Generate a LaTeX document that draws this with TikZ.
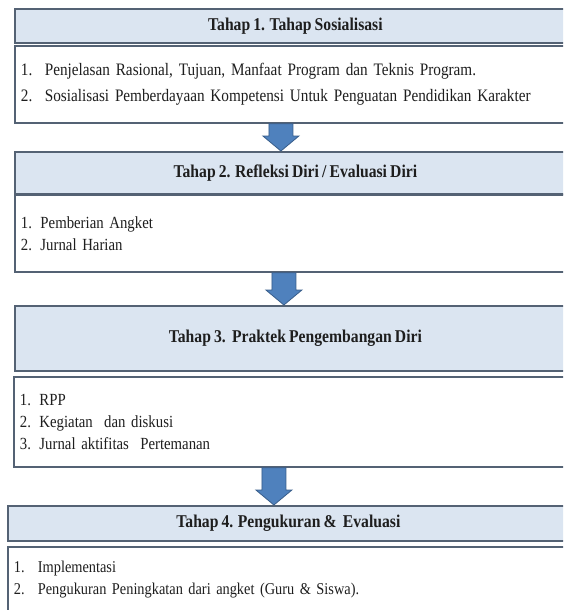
\documentclass[tikz,border=0pt]{standalone}
\usepackage{fontspec}
\setmainfont{Liberation Serif}[FakeStretch=0.87,WordSpace=0.8]
\usetikzlibrary{calc,positioning}

\definecolor{boxline}{RGB}{84,98,116}
\definecolor{headfill}{RGB}{219,229,241}
\definecolor{arrowfill}{RGB}{79,129,189}
\definecolor{arrowline}{RGB}{56,93,138}
\definecolor{txt}{RGB}{30,30,30}

\tikzset{
  stagehead/.style={draw=boxline,line width=1.8pt,fill=headfill,anchor=north west,
    minimum width=561pt,inner sep=0pt,text=txt,font=\fontsize{18}{20}\selectfont\bfseries},
  stagebody/.style={draw=boxline,line width=1.8pt,fill=white,anchor=north west,
    minimum width=561pt,text width=549pt,inner xsep=6pt,inner ysep=0pt,align=left,
    text=txt,font=\fontsize{17}{22}\selectfont},
  flowarrow/.style={fill=arrowfill,draw=arrowline,line width=0.8pt,
    to path={let \p1=(\tikztostart),\p2=(\tikztotarget) in
      (\x1-12pt,\y1)--(\x1+12pt,\y1)--(\x1+12pt,\y2+15pt)--(\x1+18pt,\y2+15pt)
      --(\x1,\y2)--(\x1-18pt,\y2+15pt)--(\x1-12pt,\y2+15pt)--cycle}}
}
\newcommand{\itm}[1]{\makebox[24pt][l]{#1}}

\begin{document}
\begin{tikzpicture}[x=1pt,y=-1pt]
\useasboundingbox (0,0) rectangle (563,610);
\clip (0,0) rectangle (563,610);

\node[stagehead,minimum height=34pt] (h1) at (14,8) {Tahap 1. Tahap Sosialisasi};
\node[stagebody,minimum height=77pt,font=\fontsize{17.5}{26}\selectfont] (b1) at (14,45)
  {\itm{1.}Penjelasan Rasional, Tujuan, Manfaat Program dan Teknis Program.\\
   \itm{2.}Sosialisasi Pemberdayaan Kompetensi Untuk Penguatan Pendidikan Karakter};

\node[stagehead,minimum height=42pt] (h2) at (14,151) {Tahap 2. Refleksi Diri / Evaluasi Diri};
\node[stagebody,minimum height=77pt] (b2) at (14,194)
  {1. Pemberian Angket\\ 2. Jurnal Harian\\[5pt]};

\node[stagehead,minimum height=65pt] (h3) at (14,305) {Tahap 3.\ \ Praktek Pengembangan Diri};
\node[stagebody,minimum height=90pt] (b3) at (13,376)
  {1. RPP\\ 2. Kegiatan\ \ dan diskusi\\ 3. Jurnal aktifitas\ \ Pertemanan};

\node[stagehead,minimum height=35pt] (h4) at (7,505) {Tahap 4. Pengukuran \&\ \ Evaluasi};
\node[stagebody,minimum height=66pt,font=\fontsize{16.5}{22}\selectfont] (b4) at (7,546)
  {\itm{1.}Implementasi\\
   \itm{2.}Pengukuran Peningkatan dari angket (Guru \& Siswa).};

\draw[flowarrow] ([xshift=-14.5pt]b1.south) to ([xshift=-14.5pt]h2.north);
\draw[flowarrow] ([xshift=-11.5pt]b2.south) to ([xshift=-11.5pt]h3.north);
\draw[flowarrow] ([xshift=-20.5pt]b3.south) to ([xshift=-20.5pt]h4.north);
\end{tikzpicture}
\end{document}
